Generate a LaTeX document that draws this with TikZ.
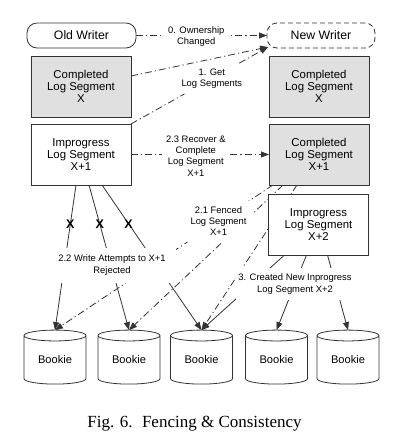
\documentclass[tikz,border=0pt]{standalone}
\usepackage{fontspec}
\setmainfont{Liberation Sans}
\newfontfamily\capfont{Liberation Serif}
\usetikzlibrary{arrows.meta,shapes.geometric,calc}
\pgfdeclarelayer{bg}
\pgfsetlayers{bg,main}
\definecolor{boxgray}{HTML}{E0E0E0}
\definecolor{edge}{HTML}{333333}
\begin{document}
\begin{tikzpicture}[x=1pt,y=-1pt,
  box/.style={draw=edge, line width=0.8pt, minimum width=100pt, minimum height=61pt, inner sep=0pt, outer sep=0pt, align=center, font=\fontsize{11.4}{12.2}\selectfont},
  done/.style={box, fill=boxgray},
  open/.style={box, fill=white},
  writer/.style={draw=edge, line width=0.8pt, rounded corners=10pt, minimum width=109pt, minimum height=25pt, inner sep=0pt, outer sep=0pt, fill=white, font=\fontsize{12.3}{13}\selectfont},
  bookie/.style={cylinder, shape border rotate=90, aspect=0.32, draw=edge, line width=0.8pt, fill=white, cylinder uses custom fill, cylinder body fill=white, cylinder end fill=white, minimum width=62pt, minimum height=54pt, inner sep=0pt, outer sep=0pt, font=\fontsize{11.1}{12}\selectfont},
  lab/.style={fill=white, align=center, inner sep=1.5pt, font=\fontsize{9.4}{11.3}\selectfont},
  dd/.style={line width=0.8pt, draw=edge, dash pattern=on 7pt off 3pt on 1.2pt off 3pt, -{Triangle[length=8pt,width=6pt]}},
  sl/.style={line width=0.8pt, draw=edge, -{Triangle[length=8pt,width=6pt]}},
  xmark/.style={inner sep=0pt, font=\fontsize{12.5}{13}\selectfont\bfseries},
]
\useasboundingbox (0,0) rectangle (404,432);

% nodes
\node[writer] (ow) at (81.5,35.5) {Old Writer};
\node[writer, minimum width=108pt, dash pattern=on 5pt off 3pt] (nw) at (321,35.5) {New Writer};
\node[done] (cx) at (81,86.5) {Completed\\Log Segment\\X};
\node[done] (rcx) at (319,86.5) {Completed\\Log Segment\\X};
\node[open] (i1) at (81,154.5) {Improgress\\Log Segment\\X+1};
\node[done] (c1) at (319,154.5) {Completed\\Log Segment\\X+1};
\node[open] (i2) at (318.5,224.5) {Improgress\\Log Segment\\X+2};
\node[bookie] (b1) at (55,360) {Bookie};
\node[bookie] (b2) at (129,360) {Bookie};
\node[bookie] (b3) at (201.5,360) {Bookie};
\node[bookie] (b4) at (276.5,360) {Bookie};
\node[bookie] (b5) at (348,360) {Bookie};
\coordinate (nwt) at ([xshift=1pt,yshift=1pt]nw.south west);

\begin{pgfonlayer}{bg}
% 0. ownership
\draw[dd] (ow.east) -- coordinate[pos=0.46] (l0) (nw.west);
% 1. get log segments
\draw[dd] ([yshift=10.5pt]cx.east) -- (nwt);
\draw[dd,-] (i1.north east) -- ($(i1.north east)!0.39!(nwt)$);
\draw[dd] ($(i1.north east)!0.79!(nwt)$) -- (nwt);
\coordinate (l1) at ($(i1.north east)!0.59!(nwt)$);
% 2.3 recover
\draw[dd] (i1.east) -- coordinate[pos=0.47] (l23) (c1.west);
% 2.2 write attempts
\draw[sl] ([xshift=-5pt]i1.south) -- coordinate[pos=0.268] (x1) (b1.north);
\draw[sl] ([xshift=8pt]i1.south) -- coordinate[pos=0.268] (x2) (b2.north);
\draw[sl] ([xshift=21pt]i1.south) -- coordinate[pos=0.268] (x3) (b3.north);
% 2.1 fenced
\draw[dd] ([xshift=-46pt]c1.south) -- coordinate[pos=0.25] (l21) (b1.north);
\draw[dd] ([xshift=-36pt]c1.south) -- (b2.north);
\draw[dd] ([xshift=-22pt]c1.south) -- (b3.north);
% 3. created new
\draw[sl] ([xshift=-34pt]i2.south) -- (b3.north);
\draw[sl] ([xshift=-12pt]i2.south) -- (b4.north);
\draw[sl] ([xshift=9pt]i2.south) -- (b5.north);
\end{pgfonlayer}

% labels
\node[lab, inner xsep=4pt] (t0) at ([yshift=-1pt]l0) {0. Ownership\\Changed};
\node[font=\fontsize{9.4}{11.3}\selectfont, align=center, inner sep=0pt] (t1) at (l1) {1. Get\\Log Segments};
\node[lab, inner xsep=4pt] (t23) at ([yshift=-1.5pt]l23) {2.3 Recover \&\\Complete\\Log Segment\\X+1};
\node[lab, inner xsep=8pt, inner ysep=6pt] (t21) at (l21) {2.1 Fenced\\Log Segment\\X+1};
\node[lab, minimum width=128pt, minimum height=35pt] (t22) at (112,265) {2.2 Write Attempts to X+1\\Rejected};
\node[lab, inner xsep=2pt, inner ysep=6pt] (t3) at (295,284) {3. Created New Inprogress\\Log Segment X+2};
\node[xmark] (m1) at (x1) {X};
\node[xmark] (m2) at (x2) {X};
\node[xmark] (m3) at (x3) {X};

% caption
\node[anchor=base, inner sep=0pt, font=\capfont\fontsize{17}{19}\selectfont] (cap) at (194.5,427) {Fig. 6.\hspace{0.55em}Fencing \& Consistency};
\end{tikzpicture}
\end{document}
